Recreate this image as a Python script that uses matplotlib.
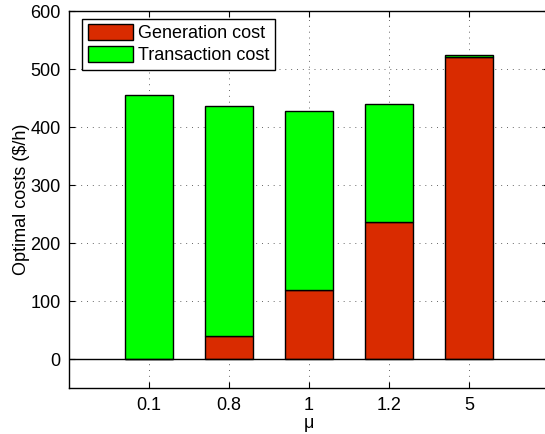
import matplotlib
matplotlib.use("Agg")
import matplotlib.pyplot as plt
import numpy as np

plt.rcParams['font.family'] = ['Liberation Sans', 'DejaVu Sans']

mu_labels = ['0.1', '0.8', '1', '1.2', '5']
generation_cost = [0, 40, 119, 236, 520]
transaction_cost = [456, 397, 309, 204, 3.5]

fig = plt.figure(figsize=(5.45, 4.34), dpi=100)
ax = fig.add_axes([69/545, 1-388.3/434, 480/545, (388.3-11)/434])

x = np.arange(1, len(mu_labels) + 1)
w = 0.6
ax.bar(x, generation_cost, w, color='#D92B00', edgecolor='black', linewidth=1.0,
       label='Generation cost', zorder=3)
ax.bar(x, transaction_cost, w, bottom=generation_cost, color='#00FF00',
       edgecolor='black', linewidth=1.0, label='Transaction cost', zorder=3)
ax.axhline(0, color='black', linewidth=1.0, zorder=4)

ax.set_xlim(0, 6)
ax.set_ylim(-50, 600)
ax.set_xticks(x)
ax.set_xticklabels(mu_labels)
ax.set_yticks(np.arange(0, 601, 100))
ax.tick_params(axis='both', direction='in', length=4, width=0.8, labelsize=13,
               top=True, right=True, pad=6)
ax.grid(True, linestyle=(0, (1, 5)), color='#666666', linewidth=0.7, zorder=0)
ax.set_axisbelow(True)
for s in ax.spines.values():
    s.set_linewidth(1.0)

ax.set_xlabel('μ', fontsize=13, labelpad=1)
ax.set_ylabel('Optimal costs ($/h)', fontsize=13, labelpad=0.5)

leg = ax.legend(loc='upper left', bbox_to_anchor=(0.028, 0.98), fontsize=13,
                handlelength=2.5, handleheight=1.0, handletextpad=0.3,
                labelspacing=0.2, borderpad=0.3, borderaxespad=0.0,
                fancybox=False, framealpha=1, edgecolor='black')
leg.get_frame().set_linewidth(1.0)

fig.savefig('out.png', dpi=100)
